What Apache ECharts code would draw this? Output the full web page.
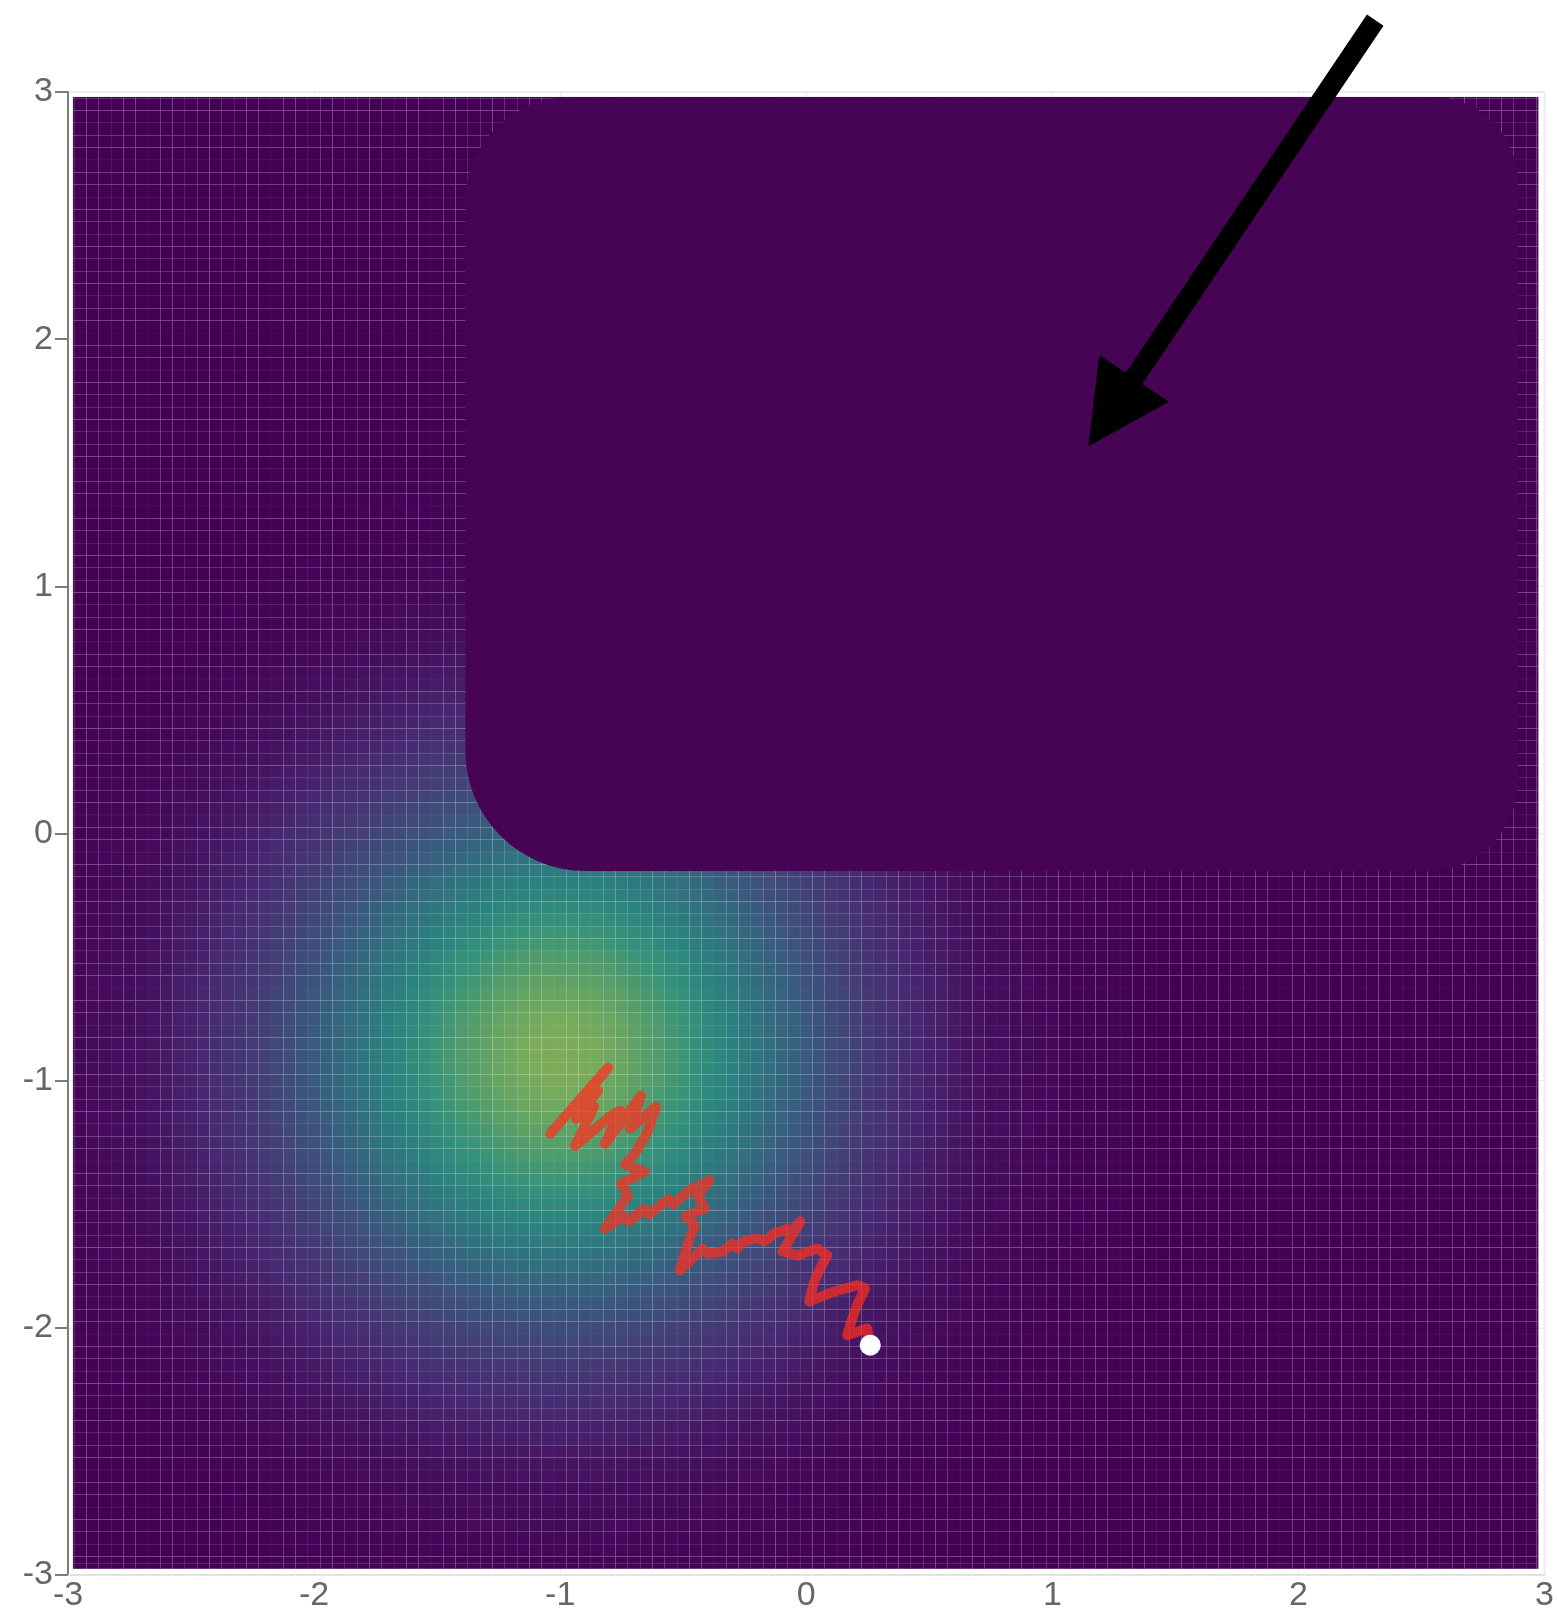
<!DOCTYPE html>
<html><head><meta charset="utf-8">
<script src="https://cdn.jsdelivr.net/npm/echarts@6/dist/echarts.min.js"></script>
<style>html,body{margin:0;padding:0;background:#fff}#c{width:1557px;height:1613px}</style>
</head><body><div id="c"></div>
<script>
// ---- axis ticks ----
const xTickValues = [-3, -2, -1, 0, 1, 2, 3];
const yTickValues = [-3, -2, -1, 0, 1, 2, 3];

// ---- density surface: read column profile (x = -3 .. 3 step 0.05) and row profile (y = -3 .. 3 step 0.05)
const cellStep = 0.05;
const xProfile = [0.02,0.02,0.03,0.03,0.04,0.04,0.05,0.06,0.07,0.09,0.10,0.12,0.14,0.16,0.18,0.20,0.23,0.26,0.29,0.33,0.36,0.40,0.44,0.48,0.52,0.56,0.61,0.65,0.69,0.73,0.78,0.81,0.85,0.88,0.91,0.94,0.96,0.98,0.99,1.00,1.00,
 1.00,0.99,0.98,0.96,0.94,0.91,0.88,0.85,0.81,0.78,0.73,0.69,0.65,0.61,0.56,0.52,0.48,0.44,0.40,0.36,0.33,0.29,0.26,0.23,0.20,0.18,0.16,0.14,0.12,0.10,0.09,0.07,0.06,0.05,0.04,0.04,0.03,0.03,0.02,0.02,
 0.01,0.01,0.01,0.01,0.01,0.01,
 0,0,0,0,0,0,0,0,0,0,0,0,0,0,0,0,0,0,0,0,0,0,0,0,0,0,0,0,0,0,0,0,0,0];
const yProfile = [0.01,0.01,
 0.02,0.02,0.03,0.03,0.04,0.04,0.05,0.06,0.07,0.09,0.10,0.12,0.14,0.16,0.18,0.20,0.23,0.26,0.29,0.33,0.36,0.40,0.44,0.48,0.52,0.56,0.61,0.65,0.69,0.73,0.78,0.81,0.85,0.88,0.91,0.94,0.96,0.98,0.99,1.00,1.00,
 1.00,0.99,0.98,0.96,0.94,0.91,0.88,0.85,0.81,0.78,0.73,0.69,0.65,0.61,0.56,0.52,0.48,0.44,0.40,0.36,0.33,0.29,0.26,0.23,0.20,0.18,0.16,0.14,0.12,0.10,0.09,0.07,0.06,0.05,0.04,0.04,0.03,0.03,0.02,0.02,
 0.01,0.01,0.01,0.01,0.01,0.01,
 0,0,0,0,0,0,0,0,0,0,0,0,0,0,0,0,0,0,0,0,0,0,0,0,0,0,0,0,0,0,0,0];

// ---- sampler path (red) and current point (white) ----
const pathX = [-1.040,-0.806,-0.907,-0.846,-0.935,-0.862,-0.939,-0.798,-0.757,-0.818,-0.672,-0.717,-0.611,-0.644,-0.696,-0.737,-0.656,-0.753,-0.725,-0.818,
  -0.74,-0.72,-0.66,-0.64,-0.56,-0.54,-0.47,-0.393,-0.441,-0.413,-0.490,-0.453,-0.474,-0.514,
  -0.421,-0.40,-0.340,-0.30,-0.28,-0.259,-0.198,-0.17,-0.130,-0.08,-0.07,-0.024,
  -0.097,-0.036,0.045,0.085,0.057,0.032,0.012,0.113,0.206,0.239,0.206,0.178,0.166,0.247,0.259];
const pathY = [-1.214,-0.947,-1.073,-1.040,-1.154,-1.105,-1.263,-1.145,-1.121,-1.255,-1.061,-1.194,-1.105,-1.206,-1.295,-1.339,-1.368,-1.416,-1.465,-1.598,
  -1.55,-1.57,-1.52,-1.54,-1.48,-1.50,-1.44,-1.404,-1.465,-1.517,-1.549,-1.586,-1.638,-1.768,
  -1.679,-1.70,-1.691,-1.66,-1.68,-1.651,-1.638,-1.65,-1.618,-1.60,-1.62,-1.570,
  -1.691,-1.707,-1.679,-1.707,-1.760,-1.812,-1.893,-1.853,-1.828,-1.840,-1.909,-1.990,-2.030,-2.002,-2.071];
const pointX = [0.26];
const pointY = [-2.07];

// ---- overlay annotations (data coordinates) ----
const boxFrom = [-1.385, 2.98];
const boxTo = [2.891, -0.152];
const arrowTail = [2.312, 3.291];
const arrowTip = [1.146, 1.566];

// ---- build tables ----
const cells = [];
for (let i = 0; i < xProfile.length; i++) {
  for (let j = 0; j < yProfile.length; j++) {
    cells.push([-3 + i * cellStep, -3 + j * cellStep, xProfile[i] * yProfile[j]]);
  }
}
const pathData = pathX.map((x, k) => [x, pathY[k]]);
const pointData = pointX.map((x, k) => [x, pointY[k]]);

const HX0 = -2.98, HX1 = 2.968, HY0 = -2.952, HY1 = 2.98;
const half = cellStep / 2;

const chart = echarts.init(document.getElementById('c'), null, {renderer: 'canvas'});
const fontFam = '"Liberation Sans", Arial, sans-serif';
chart.setOption({
  animation: false,
  backgroundColor: '#ffffff',
  grid: {left: 68, right: 7, top: 92, bottom: 36, show: true, borderColor: '#ececec', borderWidth: 2, backgroundColor: '#ffffff'},
  xAxis: {
    type: 'value', min: -3, max: 3, interval: 1,
    axisLine: {show: true, onZero: false, lineStyle: {color: '#e2e2e2', width: 2}},
    axisTick: {show: false},
    axisLabel: {color: '#666', fontSize: 34, fontFamily: fontFam, margin: 4, showMinLabel: true, showMaxLabel: true,
      customValues: xTickValues},
    splitLine: {show: true, lineStyle: {color: '#ececec', width: 1}}
  },
  yAxis: {
    type: 'value', min: -3, max: 3, interval: 1,
    axisLine: {show: true, onZero: false, lineStyle: {color: '#7c7c7c', width: 2}},
    axisTick: {show: true, length: 13, lineStyle: {color: '#7c7c7c', width: 2}},
    axisLabel: {color: '#666', fontSize: 34, fontFamily: fontFam, margin: 15, showMinLabel: true, showMaxLabel: true,
      customValues: yTickValues},
    splitLine: {show: true, lineStyle: {color: '#ececec', width: 1}}
  },
  visualMap: {
    show: false, type: 'continuous', min: 0, max: 1, dimension: 2, seriesIndex: 0,
    inRange: {color: ['#440154', '#472a72', '#414578', '#385c7f', '#30727f', '#2b837f', '#36927a', '#559e69', '#7cac5a']}
  },
  series: [
    {
      type: 'custom', data: cells, progressive: 0, encode: {x: 0, y: 1},
      renderItem: function (params, api) {
        const x = api.value(0), y = api.value(1);
        const x0 = Math.max(x - half, HX0), x1 = Math.min(x + half, HX1);
        const y0 = Math.max(y - half, HY0), y1 = Math.min(y + half, HY1);
        const a = api.coord([x0, y1]);
        const b = api.coord([x1, y0]);
        return {
          type: 'rect',
          shape: {x: a[0], y: a[1], width: b[0] - a[0], height: b[1] - a[1]},
          style: {fill: api.visual('color'), stroke: 'rgba(255,255,255,0.03)', lineWidth: 1}
        };
      }
    },
    {
      type: 'line', data: pathData, symbol: 'none', z: 5,
      lineStyle: {color: '#ff2d1e', width: 10, opacity: 0.72, join: 'round', cap: 'round'}
    },
    {
      type: 'scatter', data: pointData, symbolSize: 21, z: 6,
      itemStyle: {color: '#ffffff', opacity: 1}
    }
  ]
});

// overlay box and arrow placed via the chart's own coordinate conversion
const p = v => chart.convertToPixel({gridIndex: 0}, v);
const b0 = p(boxFrom), b1 = p(boxTo);
const T = p(arrowTail), P = p(arrowTip);
const dx = P[0] - T[0], dy = P[1] - T[1];
const L = Math.hypot(dx, dy);
const ux = dx / L, uy = dy / L, nx = -uy, ny = ux;
const headLen = 82, headHalf = 42, shaftHalf = 10;
const B = [P[0] - ux * headLen, P[1] - uy * headLen];
const arrowPts = [
  [T[0] + nx * shaftHalf, T[1] + ny * shaftHalf],
  [B[0] + nx * shaftHalf, B[1] + ny * shaftHalf],
  [B[0] + nx * headHalf, B[1] + ny * headHalf],
  [P[0], P[1]],
  [B[0] - nx * headHalf, B[1] - ny * headHalf],
  [B[0] - nx * shaftHalf, B[1] - ny * shaftHalf],
  [T[0] - nx * shaftHalf, T[1] - ny * shaftHalf]
];
chart.setOption({
  graphic: [
    {type: 'rect', z: 100, shape: {x: b0[0], y: b0[1], width: b1[0] - b0[0], height: b1[1] - b0[1], r: [105, 85, 90, 120]},
     style: {fill: '#480454'}},
    {type: 'polygon', z: 101, shape: {points: arrowPts}, style: {fill: '#000000'}}
  ]
});
</script>
</body></html>
